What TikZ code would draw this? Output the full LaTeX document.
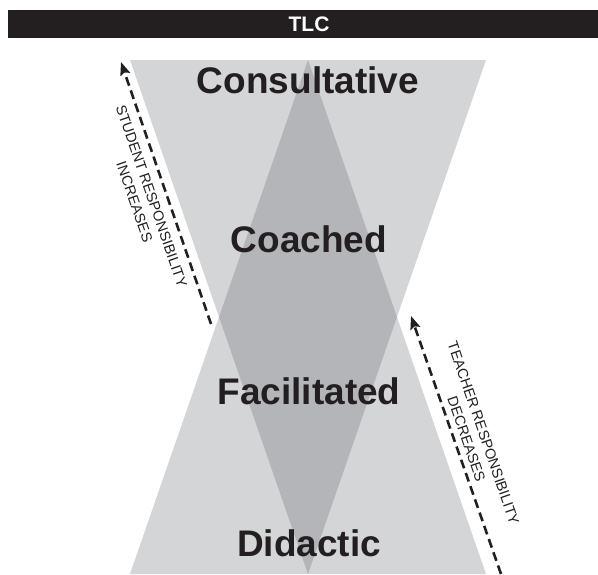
\documentclass[tikz,border=0pt]{standalone}
\usepackage{fontspec}
\setmainfont{Liberation Sans}
\usetikzlibrary{arrows.meta}
\definecolor{inkblack}{HTML}{231F20}
\definecolor{lightgrey}{HTML}{D4D5D7}
\definecolor{darkgrey}{HTML}{B4B5B8}
\begin{document}
\begin{tikzpicture}[x=1pt,y=-1pt,
  stage/.style={font=\fontsize{37}{40}\selectfont\bfseries, text=inkblack, anchor=base, inner sep=0pt},
  resplabel/.style={font=\fontsize{14.5}{18}\selectfont, text=inkblack, rotate=-71, align=center, inner sep=0pt},
  resparrow/.style={-{Stealth[length=13pt,width=10pt,inset=2pt]}, inkblack, line width=2.6pt, dash pattern=on 9pt off 5pt}]
\useasboundingbox (0,0) rectangle (598,574);
% title bar
\fill[inkblack] (8,10) rectangle (598,38);
\node[font=\fontsize{21}{23}\selectfont\bfseries, text=white] (tlc) at (309,24) {TLC};
% the two triangles and their overlap
\fill[lightgrey] (130,60) -- (486,60) -- (308,574) -- cycle;
\fill[lightgrey] (130,574) -- (486,574) -- (308,60) -- cycle;
\fill[darkgrey] (308,60) -- (397,317) -- (308,574) -- (219,317) -- cycle;
% stages
\node[stage] (consultative) at (308,93) {Consultative};
\node[stage] (coached) at (309,252) {Coached};
\node[stage] (facilitated) at (309,404) {Facilitated};
\node[stage] (didactic) at (309,556) {Didactic};
% student side
\coordinate (stutail) at (211,324);
\coordinate (stuhead) at (121,62);
\draw[resparrow] (stutail) -- (stuhead);
\node[resplabel] (student) at (143,199) {STUDENT RESPONSIBILITY\\INCREASES};
% teacher side
\coordinate (teatail) at (501,574);
\coordinate (teahead) at (411,316);
\draw[resparrow] (teatail) -- (teahead);
\node[resplabel] (teacher) at (475,436) {TEACHER RESPONSIBILITY\\DECREASES};
\end{tikzpicture}
\end{document}
